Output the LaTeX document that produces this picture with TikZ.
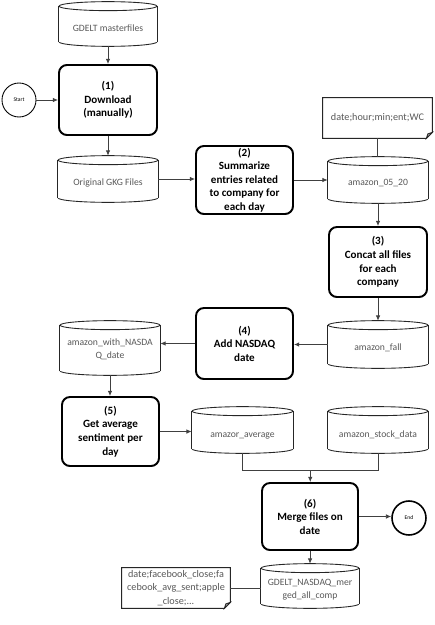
\documentclass[tikz,border=0pt]{standalone}
\usepackage{fontspec}
\setmainfont{Carlito}
\usetikzlibrary{arrows.meta,calc}
\definecolor{txtgray}{HTML}{595959}
\definecolor{lngray}{HTML}{404040}
\tikzset{
  proc/.style={draw=black, line width=1.1pt, rounded corners=4.5pt, inner sep=0pt,
    font=\bfseries\fontsize{6.3}{7.7}\selectfont, align=center},
  cylbody/.style={inner sep=0pt},
  cyltxt/.style={inner sep=0pt, text=txtgray, font=\fontsize{5.5}{7.4}\selectfont, align=center},
  notetxt/.style={inner sep=0pt, text=txtgray, font=\fontsize{5.8}{7.6}\selectfont, align=center},
  cylline/.style={draw=black!85, line width=0.5pt},
  arr/.style={draw=lngray, line width=0.45pt, -{Latex[length=3pt,width=2.6pt]}},
  link/.style={draw=lngray, line width=0.45pt},
  term/.style={circle, draw=black, inner sep=0pt, minimum size=0.68cm,
    font=\fontsize{3.2}{4}\selectfont},
}
% name, cx, cy (px, downwards), w, h, text offset, text
\newcommand\dbcyl[7]{%
  \node[cylbody, minimum width=#4*0.02cm, minimum height=#5*0.02cm] (#1) at (#2,-#3) {};
  \draw[cylline] ($(#1.north west)+(0,-4.5)$) -- ($(#1.south west)+(0,4.5)$);
  \draw[cylline] ($(#1.north east)+(0,-4.5)$) -- ($(#1.south east)+(0,4.5)$);
  \draw[cylline] ($(#1.south)+(0,4.5)$) ellipse[x radius=#4*0.01cm, y radius=0.09cm];
  \fill[white] ($(#1.south west)+(0.3,4.5)$) rectangle ($(#1.south east)+(-0.3,10)$);
  \draw[cylline] ($(#1.north)+(0,-4.5)$) ellipse[x radius=#4*0.01cm, y radius=0.09cm];
  \node[cyltxt] (#1-t) at ($(#1.center)+(0,-#6)$) {#7};
}
% name, cx, cy, w, h, text
\newcommand\notebox[6]{%
  \node[inner sep=0pt, minimum width=#4*0.02cm, minimum height=#5*0.02cm] (#1) at (#2,-#3) {};
  \draw[cylline, fill=white] (#1.north west) -- (#1.north east) -- ($(#1.south east)+(0,6)$)
     -- ($(#1.south east)+(-6,0)$) -- (#1.south west) -- cycle;
  \draw[cylline, fill=black!30] ($(#1.south east)+(0,6)$) -- ($(#1.south east)+(-4.5,4.5)$)
     -- ($(#1.south east)+(-6,0)$) -- cycle;
  \node[notetxt] (#1-t) at (#1.center) {#6};
}
\begin{document}
\begin{tikzpicture}[x=0.02cm, y=0.02cm]
\useasboundingbox[fill=white] (0,0) rectangle (435,-625);

% data stores
\dbcyl{mast}{108}{24}{98}{44}{4}{GDELT masterfiles}
\dbcyl{gkg}{108}{179}{100}{46}{4}{Original GKG Files}
\dbcyl{a0520}{378}{180}{100}{46}{3}{amazon\_05\_20}
\dbcyl{afall}{378}{344.5}{100}{47}{3}{amazon\_fall}
\dbcyl{anasd}{110}{348}{100}{54}{1}{amazon\_with\_NASDA\\Q\_date}
\dbcyl{aavg}{242.5}{430}{101}{46}{5.5}{amazor\_average}
\dbcyl{astock}{378}{430}{100}{46}{5}{amazon\_stock\_data}
\dbcyl{merged}{310}{586}{98}{44}{3.5}{GDELT\_NASDAQ\_mer\\ged\_all\_comp}

% notes
\notebox{n1}{377.5}{118}{109}{40}{date;hour;min;ent;WC}
\notebox{n2}{176}{588}{108}{40}{date;facebook\_close;fa\\cebook\_avg\_sent;apple\\\_close;...}

% processes
\node[proc, minimum width=98*0.02cm, minimum height=70*0.02cm] (b1) at (108,-100) {(1)\\Download\\(manually)};
\node[proc, minimum width=97*0.02cm, minimum height=68*0.02cm] (b2) at (244.5,-180) {(2)\\Summarize\\entries related\\to company for\\each day};
\node[proc, minimum width=98*0.02cm, minimum height=70*0.02cm] (b3) at (378,-262) {(3)\\Concat all files\\for each\\company};
\node[proc, minimum width=97*0.02cm, minimum height=71*0.02cm] (b4) at (244.5,-343.5) {(4)\\Add NASDAQ\\date};
\node[proc, minimum width=97*0.02cm, minimum height=69*0.02cm] (b5) at (110.5,-431.5) {(5)\\Get average\\sentiment per\\day};
\node[proc, minimum width=96*0.02cm, minimum height=67*0.02cm] (b6) at (310,-516.5) {(6)\\Merge files on\\date};

% terminals
\node[term, line width=0.5pt] (start) at (19,-100) {Start};
\node[term, line width=0.9pt] (endc) at (409,-518) {End};

% connectors
\draw[arr] (mast.south) -- (b1.north);
\draw[arr] (start.east) -- (b1.west);
\draw[arr] (b1.south) -- (gkg.north);
\draw[arr] (gkg.east) -- (gkg.east -| b2.west);
\draw[arr] (b2.east) -- (b2.east -| a0520.west);
\draw[link] (n1.south) -- (n1.south |- a0520.north);
\draw[arr] (a0520.south) -- (a0520.south |- b3.north);
\draw[arr] (b3.south) -- (afall.north);
\draw[arr] (afall.west) -- (afall.west -| b4.east);
\draw[arr] (b4.west) -- (b4.west -| anasd.east);
\draw[arr] (anasd.south) -- (anasd.south |- b5.north);
\draw[arr] (b5.east) -- (b5.east -| aavg.west);
\coordinate (mj) at ($(aavg.south)!0.5!(astock.south)+(0,-17)$);
\draw[link] (aavg.south) |- (mj) -| (astock.south);
\draw[arr] (mj) -- (mj |- b6.north);
\draw[arr] (b6.east) -- (b6.east -| endc.west);
\draw[arr] (b6.south) -- (merged.north);
\draw[link] (n2.east) -- (n2.east -| merged.west);
\end{tikzpicture}
\end{document}
